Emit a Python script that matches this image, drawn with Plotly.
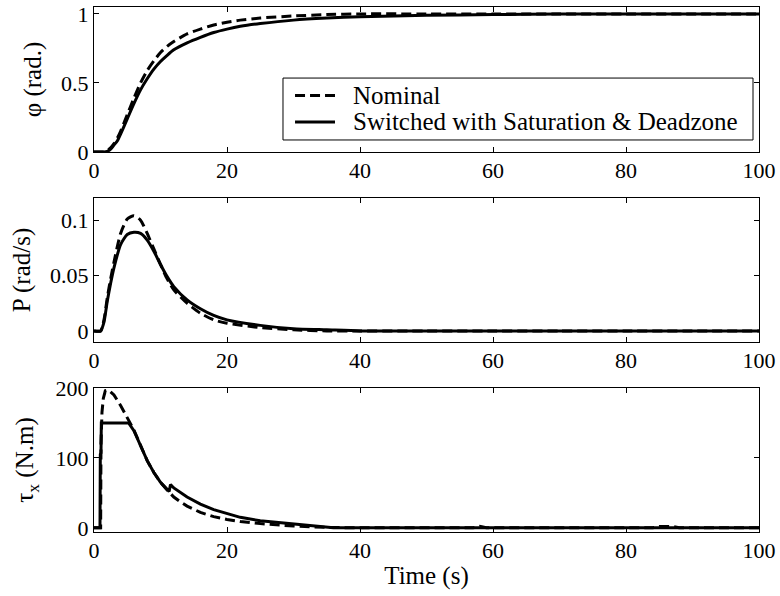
import plotly.graph_objects as go
from plotly.subplots import make_subplots

# Roll angle response
t_phi = [0, 1, 1.5, 2, 2.5, 3, 3.5, 4, 5, 6, 7, 8, 9, 10, 11, 12, 14, 16, 18, 20,
         22, 25, 30, 35, 40, 50, 60, 70, 80, 90, 100]
phi_nominal = [0, 0, 0, 0.01, 0.03, 0.06, 0.10, 0.15, 0.27, 0.39, 0.50, 0.59, 0.66, 0.72,
               0.765, 0.80, 0.855, 0.89, 0.92, 0.94, 0.955, 0.97, 0.985, 0.995, 1.0,
               1.0, 1.0, 1.0, 1.0, 1.0, 1.0]
phi_switched = [0, 0, 0, 0.005, 0.02, 0.05, 0.08, 0.13, 0.24, 0.35, 0.45, 0.53, 0.60, 0.655,
                0.70, 0.74, 0.79, 0.83, 0.865, 0.89, 0.91, 0.93, 0.955, 0.97, 0.98,
                0.99, 0.995, 1.0, 1.0, 1.0, 1.0]

# Roll rate
t_p = [0, 1, 1.5, 2, 2.5, 3, 4, 5, 6, 7, 8, 9, 10, 11, 12, 14, 16, 18, 20, 25, 30,
       35, 40, 50, 60, 70, 80, 90, 100]
p_nominal = [0, 0, 0.01, 0.03, 0.047, 0.062, 0.088, 0.101, 0.104, 0.100, 0.088, 0.074,
             0.060, 0.047, 0.037, 0.025, 0.016, 0.010, 0.007, 0.003, 0.001, 0.0, 0,
             0, 0, 0, 0, 0, 0]
p_switched = [0, 0, 0.008, 0.027, 0.043, 0.057, 0.078, 0.087, 0.089, 0.088, 0.082, 0.072,
              0.060, 0.049, 0.040, 0.028, 0.020, 0.014, 0.010, 0.005, 0.002, 0.001, 0,
              0, 0, 0, 0, 0, 0]

# Control torque
t_tau_nom = [0, 1.0, 1.05, 1.2, 1.4, 1.7, 2.2, 3, 4, 5, 6, 7, 8, 9, 10, 11, 12, 13, 14,
             16, 18, 20, 22, 25, 30, 35, 40, 57, 58, 59, 84, 85, 87, 88, 100]
tau_nominal = [0, 0, 120, 165, 185, 196, 197, 190, 175, 158, 140, 118, 96, 79, 65, 54,
               44, 37, 31, 22, 16, 12, 9, 6, 2.5, 0.5, 0, 0, 2, 0, 0, 2, 2, 0, 0]
t_tau_sw = [0, 0.9, 0.95, 1.05, 1.1, 5.2, 6, 7, 8, 9, 10, 11, 11.3, 11.5, 12, 14, 16,
            18, 20, 22, 25, 30, 35, 36, 100]
tau_switched = [0, 0, 105, 107, 150, 150, 139, 118, 96, 79, 65, 55, 52, 62, 57, 44, 34,
                26, 20, 15, 10, 5, 1, 0, 0]

x_ticks = [0, 20, 40, 60, 80, 100]
series_names = ["Nominal", "Switched with Saturation & Deadzone"]

FONT = "Liberation Serif, Times New Roman, serif"
TICK_SIZE = 22
TITLE_SIZE = 25
DASH = "10px,5px"
W = 3

fig = make_subplots(rows=3, cols=1)

fig.add_trace(go.Scatter(x=t_phi, y=phi_nominal, mode="lines", name=series_names[0],
                         line=dict(color="black", width=W, dash=DASH, shape="spline", smoothing=0.6)),
              row=1, col=1)
fig.add_trace(go.Scatter(x=t_phi, y=phi_switched, mode="lines", name=series_names[1],
                         line=dict(color="black", width=W, shape="spline", smoothing=0.6)),
              row=1, col=1)
fig.add_trace(go.Scatter(x=t_p, y=p_nominal, mode="lines", name=series_names[0],
                         line=dict(color="black", width=W, dash=DASH, shape="spline", smoothing=0.6)),
              row=2, col=1)
fig.add_trace(go.Scatter(x=t_p, y=p_switched, mode="lines", name=series_names[1],
                         line=dict(color="black", width=W, shape="spline", smoothing=0.6)),
              row=2, col=1)
fig.add_trace(go.Scatter(x=t_tau_nom, y=tau_nominal, mode="lines", name=series_names[0],
                         line=dict(color="black", width=W, dash=DASH)),
              row=3, col=1)
fig.add_trace(go.Scatter(x=t_tau_sw, y=tau_switched, mode="lines", name=series_names[1],
                         line=dict(color="black", width=W)),
              row=3, col=1)

axis_style = dict(showline=True, linecolor="black", linewidth=1, mirror="ticks",
                  ticks="inside", ticklen=5, tickcolor="black", showgrid=False,
                  zeroline=False, automargin=False,
                  tickfont=dict(family=FONT, size=TICK_SIZE, color="black"))

title_font = dict(family=FONT, size=TITLE_SIZE, color="black")

domains = [[0.7238, 1.0], [0.3619, 0.6362], [0.0, 0.2743]]
for i, d in enumerate(domains, start=1):
    fig.update_xaxes(range=[0, 100], tickvals=x_ticks, domain=[0, 1], ticklabelstandoff=-1,
                     row=i, col=1, **axis_style)
    fig.update_yaxes(domain=d, row=i, col=1, **axis_style)

fig.update_yaxes(range=[0, 1.05], tickvals=[0, 0.5, 1], ticktext=["0", "0.5", "1"],
                 title=dict(text="\u03c6 (rad.)", font=title_font, standoff=12),
                 row=1, col=1)
fig.update_yaxes(range=[-0.01, 0.12], tickvals=[0, 0.05, 0.1], ticktext=["0", "0.05", "0.1"],
                 title=dict(text="P (rad/s)", font=title_font, standoff=12),
                 row=2, col=1)
fig.update_yaxes(range=[-6, 200], tickvals=[0, 100, 200], ticktext=["0", "100", "200"],
                 title=dict(text="\u03c4<sub>x</sub> (N.m)", font=title_font, standoff=14),
                 row=3, col=1)
fig.update_xaxes(title=dict(text="Time (s)", font=title_font, standoff=4),
                 row=3, col=1)

# Boxed legend inside the top panel (axis-domain coordinates)
legend_shapes = [
    dict(type="rect", xref="x domain", yref="y domain", x0=0.2842, x1=0.991, y0=0.083, y1=0.510,
         line=dict(color="black", width=1), fillcolor="white", layer="above"),
    dict(type="line", xref="x domain", yref="y domain", x0=0.3023, x1=0.3624, y0=0.39, y1=0.39,
         line=dict(color="black", width=W, dash=DASH), layer="above"),
    dict(type="line", xref="x domain", yref="y domain", x0=0.3023, x1=0.3624, y0=0.207, y1=0.207,
         line=dict(color="black", width=W), layer="above"),
]
legend_labels = [
    dict(text=series_names[0], xref="x domain", yref="y domain", x=0.3865, y=0.39,
         xanchor="left", yanchor="middle", showarrow=False, font=title_font),
    dict(text=series_names[1], xref="x domain", yref="y domain", x=0.3865, y=0.207,
         xanchor="left", yanchor="middle", showarrow=False, font=title_font),
]

fig.update_layout(
    width=780, height=596,
    margin=dict(l=94, r=21, t=7, b=64),
    paper_bgcolor="white", plot_bgcolor="white",
    font=dict(family=FONT, size=TICK_SIZE, color="black"),
    showlegend=False,
    shapes=legend_shapes,
    annotations=legend_labels,
)

fig.write_html("out.html")
